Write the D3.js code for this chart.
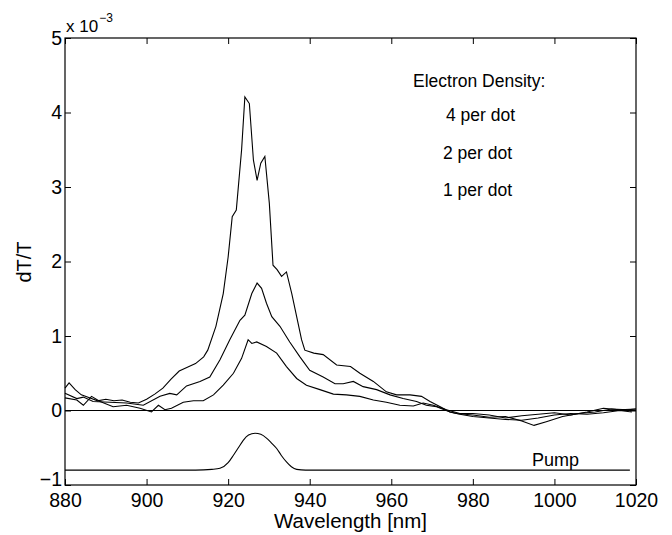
<!DOCTYPE html>
<html>
<head>
<meta charset="utf-8">
<script src="https://cdn.jsdelivr.net/npm/d3@7"></script>
<style>
  body { margin: 0; background: #fff; }
  text { font-family: "Liberation Sans", Arial, sans-serif; fill: #000; }
  .trace { fill: none; stroke: #000; stroke-width: 1.1; }
</style>
</head>
<body>
<div id="container"></div>
<script>
/* DATA (dT/T in units of 1e-3) */
const wl4 = [880, 881, 882.5, 884, 886, 888, 890, 892, 894, 896, 898, 900, 902, 904, 906, 908, 910, 912, 914, 915, 917, 918.8, 920, 921, 922, 923.3, 924.1, 925.2, 926.2, 927.1, 928, 929, 930.1, 931, 932, 933.1, 934.3, 935.6, 936.8, 938, 938.8, 941, 943.3, 946.6, 950, 952.3, 955.6, 958.8, 961.3, 964.6, 967.4, 969.5, 972, 974.4, 976.8, 980, 984, 988, 992, 996, 1000, 1004, 1008, 1012, 1016, 1019];
const dt4 = [0.30, 0.37, 0.28, 0.21, 0.17, 0.13, 0.15, 0.13, 0.14, 0.11, 0.10, 0.15, 0.22, 0.30, 0.42, 0.53, 0.58, 0.63, 0.72, 0.81, 1.13, 1.57, 2.06, 2.60, 2.69, 3.50, 4.21, 4.12, 3.36, 3.09, 3.32, 3.41, 2.78, 1.95, 1.89, 1.80, 1.86, 1.57, 1.26, 0.95, 0.81, 0.77, 0.75, 0.61, 0.59, 0.50, 0.39, 0.25, 0.21, 0.21, 0.19, 0.12, 0.05, -0.02, -0.05, -0.08, -0.10, -0.12, -0.13, -0.10, -0.06, -0.04, -0.05, -0.03, 0.00, -0.02];

const wl2 = [880, 882.9, 884.5, 886.9, 891, 895.1, 899.2, 903.3, 905.7, 907.4, 909.8, 913.1, 915.5, 918, 920.4, 922.9, 924.1, 925.8, 927.1, 928.2, 929.4, 930.7, 932.7, 935.1, 937.6, 940, 943.3, 946.2, 948.2, 950.7, 953.1, 956.4, 959.7, 962.9, 966.2, 968.6, 971.1, 974.4, 976, 980, 984, 988, 992, 995, 998, 1002, 1006, 1010, 1014, 1018, 1020];
const dt2 = [0.23, 0.16, 0.18, 0.12, 0.11, 0.10, 0.07, 0.19, 0.23, 0.21, 0.33, 0.39, 0.45, 0.68, 0.95, 1.21, 1.28, 1.57, 1.71, 1.64, 1.44, 1.26, 1.13, 0.92, 0.72, 0.54, 0.45, 0.36, 0.36, 0.39, 0.32, 0.28, 0.21, 0.16, 0.12, 0.07, 0.05, -0.02, -0.04, -0.06, -0.09, -0.08, -0.14, -0.20, -0.15, -0.08, -0.04, -0.02, 0.02, 0.01, 0.02];

const wl1 = [880, 882.9, 884.5, 886.5, 888.6, 891.8, 895.1, 898.4, 901.2, 902.9, 904.5, 906.1, 909, 911.5, 913.9, 916.4, 918.8, 921.3, 923.3, 924.9, 925.8, 927, 929.4, 931.9, 934.3, 936.8, 939.2, 942.5, 945.8, 949, 952.3, 955.6, 958.8, 962.1, 965.4, 967.8, 970.3, 973.5, 976.8, 980, 984, 988, 992, 996, 1000, 1004, 1008, 1012, 1016, 1020];
const dt1 = [0.17, 0.14, 0.07, 0.19, 0.12, 0.05, 0.07, 0.03, -0.02, 0.07, 0.01, 0.03, 0.11, 0.13, 0.13, 0.21, 0.34, 0.50, 0.70, 0.95, 0.90, 0.92, 0.86, 0.77, 0.59, 0.43, 0.34, 0.28, 0.22, 0.21, 0.19, 0.14, 0.11, 0.07, 0.06, 0.10, 0.07, 0.01, -0.04, -0.04, -0.06, -0.10, -0.07, -0.05, -0.03, -0.06, -0.02, 0.03, 0.01, 0.02];

const wlPump = [880, 912, 916, 918, 920, 921.3, 922.5, 923.7, 925, 926.6, 928, 929.4, 930.7, 931.9, 933, 934.3, 935.5, 936.8, 939, 1018.5];
const dtPump = [-0.80, -0.80, -0.79, -0.776, -0.70, -0.60, -0.50, -0.40, -0.33, -0.305, -0.32, -0.37, -0.44, -0.51, -0.60, -0.69, -0.755, -0.79, -0.80, -0.80];

const zeroWl = [880, 1020];
const zeroDt = [0, 0];

const xTicks = [880, 900, 920, 940, 960, 980, 1000, 1020];
const yTicks = [-1, 0, 1, 2, 3, 4, 5];
const legendLabels = ["Electron Density:", "4 per dot", "2 per dot", "1 per dot"];

/* LAYOUT */
const W = 672, H = 535;
const margin = { top: 38, bottom: 50, left: 65, right: 36 },
  width = W - margin.left - margin.right,
  height = H - margin.top - margin.bottom;

const x = d3.scaleLinear().domain([880, 1020]).range([0, width]);
const y = d3.scaleLinear().domain([-1, 5]).range([height, 0]);

const svg = d3.select("#container").append("svg")
  .attr("width", W)
  .attr("height", H);

const g = svg.append("g")
  .attr("transform", "translate(" + margin.left + "," + margin.top + ")");

const line = d3.line()
  .x(d => x(d[0]))
  .y(d => y(d[1]));

const zip = (a, b) => a.map((v, i) => [v, b[i]]);

/* TRACES */
g.append("path").datum(zip(zeroWl, zeroDt)).attr("class", "trace")
  .attr("stroke-width", 1.5).attr("d", line);
[[wl1, dt1], [wl2, dt2], [wl4, dt4]].forEach(s => {
  g.append("path").datum(zip(s[0], s[1])).attr("class", "trace").attr("d", line);
});
g.append("path").datum(zip(wlPump, dtPump)).attr("class", "trace")
  .attr("d", line.curve(d3.curveMonotoneX));

/* AXES */
const fmt = d3.format("d");
const xAxis = g.append("g")
  .attr("transform", "translate(0," + height + ")")
  .call(d3.axisBottom(x).tickValues(xTicks).tickFormat(fmt).tickSizeInner(-6).tickSizeOuter(0).tickPadding(8));
const xTop = g.append("g")
  .call(d3.axisTop(x).tickValues(xTicks).tickSizeInner(-6).tickSizeOuter(0).tickFormat(""));
const yAxis = g.append("g")
  .call(d3.axisLeft(y).tickValues(yTicks).tickFormat(fmt).tickSizeInner(-6).tickSizeOuter(0).tickPadding(3));
const yRight = g.append("g")
  .attr("transform", "translate(" + width + ",0)")
  .call(d3.axisRight(y).tickValues(yTicks).tickSizeInner(-6).tickSizeOuter(0).tickFormat(""));

[xAxis, xTop, yAxis, yRight].forEach(a => {
  a.select(".domain").remove();
  a.selectAll("line").attr("stroke", "#000");
  a.selectAll("text").style("font-size", "19.5px").style("font-family", "Liberation Sans, Arial, sans-serif");
});
// lift the bottom y label a little so it clears the 880 label
yAxis.selectAll(".tick text").filter(d => d === -1).attr("dy", "0.05em");

g.append("rect")
  .attr("width", width).attr("height", height)
  .attr("fill", "none").attr("stroke", "#000").attr("stroke-width", 1.2);

/* EXPONENT */
const expo = svg.append("text").attr("x", 66).attr("y", 32).style("font-size", "17px");
expo.append("tspan").text("x 10");
expo.append("tspan").attr("dy", -10).attr("dx", 1).style("font-size", "12px").text("\u22123");

/* AXIS LABELS */
svg.append("text")
  .attr("transform", "translate(31,262) rotate(-90)")
  .style("text-anchor", "middle").style("font-size", "20px")
  .text("dT/T");

svg.append("text")
  .attr("x", margin.left + x(950)).attr("y", 528)
  .style("text-anchor", "middle").style("font-size", "20.5px")
  .text("Wavelength [nm]");

/* ANNOTATIONS */
const legX = [413, 446, 443, 443], legY = [87, 121, 159, 196];
legendLabels.forEach((t, i) => {
  svg.append("text").attr("x", legX[i]).attr("y", legY[i])
    .style("font-size", "17.5px").text(t);
});
svg.append("text").attr("x", 532).attr("y", 466).style("font-size", "18px").text("Pump");
</script>
</body>
</html>
